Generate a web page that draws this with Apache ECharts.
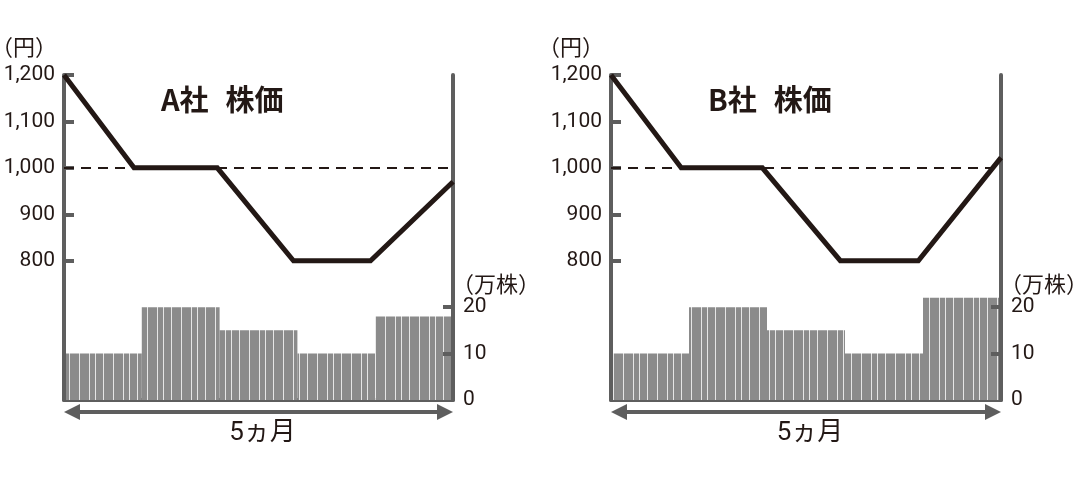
<!DOCTYPE html>
<html lang="ja">
<head>
<meta charset="UTF-8" />
<title>株価と出来高</title>
<script src="https://cdn.jsdelivr.net/npm/echarts@6/dist/echarts.min.js"></script>
<style>
  html, body { margin: 0; padding: 0; background: #fff; }
  #main { width: 1080px; height: 502px; }
</style>
</head>
<body>
<div id="main"></div>
<script>
// データ
var months = ['1', '2', '3', '4', '5'];
var priceXA = [0, 0.9, 1.97, 2.95, 3.94, 5];
var priceA = [1200, 1000, 1000, 800, 800, 970];
var priceXB = [0, 0.9, 1.94, 2.94, 3.94, 5];
var priceB = [1200, 1000, 1000, 800, 800, 1022];
var volumeA = [10, 20, 15, 10, 18];
var volumeB = [10, 20, 15, 10, 22];
var priceTicks = [800, 900, 1000, 1100, 1200];
var volumeLabels = [0, 10, 20];
var volumeTicks = [10, 20];
var refPrice = 1000;

var DARK = '#231815';
var GRAY = '#5e5e5e';
var NUM_FONT = 'Roboto';
var JP_FONT = '"Noto Sans CJK JP"';

// 棒の縦じま模様
function stripes() {
    var c = document.createElement('canvas');
    c.width = 34; c.height = 8;
    var ctx = c.getContext('2d');
    ctx.fillStyle = '#8b8b8b';
    ctx.fillRect(0, 0, 34, 8);
    ctx.fillStyle = '#e6e6e6';
    [1, 11, 21, 27].forEach(function (x) { ctx.fillRect(x, 0, 1, 8); });
    return c;
}
var pattern = { image: stripes(), repeat: 'repeat' };

function pairs(xs, ys) {
    return xs.map(function (x, i) { return [x, ys[i]]; });
}

var panels = [
    { left: 64, width: 389, company: 'A社', titleX: 156, px: priceXA, py: priceA, vol: volumeA },
    { left: 611, width: 390, company: 'B社', titleX: 703, px: priceXB, py: priceB, vol: volumeB }
];

var option = {
    animation: false,
    backgroundColor: '#fff',
    title: [],
    grid: [],
    xAxis: [],
    yAxis: [],
    series: [],
    graphic: []
};

panels.forEach(function (p, k) {
    option.grid.push({ left: p.left, top: 75, width: p.width, height: 325 });
    option.title.push({
        text: '{a|' + p.company + '}{b|株価}', left: p.titleX, top: 80,
        textStyle: {
            fontFamily: JP_FONT, fontSize: 29, fontWeight: 'bold', color: DARK,
            rich: {
                a: { fontFamily: JP_FONT, fontSize: 29, fontWeight: 'bold', color: DARK },
                b: { fontFamily: JP_FONT, fontSize: 29, fontWeight: 'bold', color: DARK, padding: [0, 0, 0, 17] }
            }
        }
    });
    // 棒用カテゴリ軸
    option.xAxis.push({
        type: 'category', gridIndex: k, data: months, boundaryGap: true,
        axisLine: { show: true, lineStyle: { color: GRAY, width: 4 } },
        axisTick: { show: false }, axisLabel: { show: false }
    });
    // 折れ線用の数値軸
    option.xAxis.push({
        type: 'value', gridIndex: k, min: 0, max: 5, show: false
    });
    option.yAxis.push({
        type: 'value', gridIndex: k, position: 'left', min: 500, max: 1200, interval: 100, z: 3,
        splitLine: { show: false },
        axisLine: { show: true, lineStyle: { color: GRAY, width: 4 } },
        axisTick: { show: true, inside: true, length: 10, customValues: priceTicks, lineStyle: { color: GRAY, width: 4 } },
        axisLabel: {
            customValues: priceTicks, margin: 9,
            fontFamily: NUM_FONT, fontSize: 21, color: DARK,
            formatter: function (v) { return v.toLocaleString('en-US'); }
        }
    });
    option.yAxis.push({
        type: 'value', gridIndex: k, position: 'right', min: 0, max: 70, interval: 10, z: 3,
        splitLine: { show: false },
        axisLine: { show: true, lineStyle: { color: GRAY, width: 4 } },
        axisTick: { show: true, inside: true, length: 10, customValues: volumeTicks, lineStyle: { color: GRAY, width: 4 } },
        axisLabel: {
            customValues: volumeLabels, margin: 10,
            fontFamily: NUM_FONT, fontSize: 21, color: DARK
        }
    });
    option.series.push({
        type: 'bar', xAxisIndex: k * 2, yAxisIndex: k * 2 + 1,
        data: p.vol, barCategoryGap: '0%',
        itemStyle: { color: pattern }, z: 1
    });
    option.series.push({
        type: 'line', xAxisIndex: k * 2 + 1, yAxisIndex: k * 2,
        data: pairs(p.px, p.py), showSymbol: false, clip: false, z: 5,
        lineStyle: { color: DARK, width: 5, join: 'miter' },
        markLine: {
            silent: true, symbol: ['none', 'none'], label: { show: false },
            lineStyle: { color: DARK, width: 2.2, type: [10, 7] },
            data: [{ yAxis: refPrice }]
        }
    });

    var x0 = p.left, x1 = p.left + p.width, ay = 412;
    option.graphic.push(
        { type: 'line', shape: { x1: x0 + 14, y1: ay, x2: x1 - 14, y2: ay }, style: { stroke: GRAY, lineWidth: 4 } },
        { type: 'polygon', shape: { points: [[x0, ay], [x0 + 16, ay - 8], [x0 + 16, ay + 8]] }, style: { fill: GRAY } },
        { type: 'polygon', shape: { points: [[x1, ay], [x1 - 16, ay - 8], [x1 - 16, ay + 8]] }, style: { fill: GRAY } },
        { type: 'text', x: (x0 + x1) / 2 + 4, y: 433,
          style: { text: '5ヵ月', font: '26px Roboto, ' + JP_FONT, fill: DARK, textAlign: 'center', textVerticalAlign: 'middle' } },
        { type: 'text', x: x0 - 40, y: 47,
          style: { text: '（円）', font: '22px ' + JP_FONT, fill: DARK, textAlign: 'center', textVerticalAlign: 'middle' } },
        { type: 'text', x: x1 + 43, y: 284,
          style: { text: '（万株）', font: '22px ' + JP_FONT, fill: DARK, textAlign: 'center', textVerticalAlign: 'middle' } }
    );
});

var chart = echarts.init(document.getElementById('main'));
chart.setOption(option);
</script>
</body>
</html>
